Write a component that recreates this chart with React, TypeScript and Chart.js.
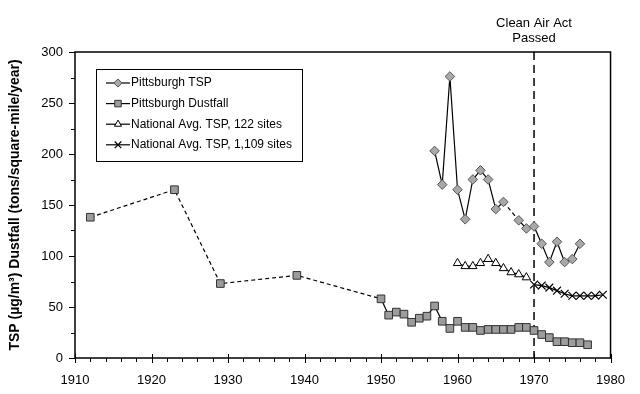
import React, { useEffect, useRef } from 'react';
import { Chart, registerables } from 'chart.js';
import { drawPoint } from 'chart.js/helpers';

Chart.register(...registerables);

// ---- data ----
const tspYears = [1957, 1958, 1959, 1960, 1961, 1962, 1963, 1964, 1965, 1966, 1968, 1969, 1970, 1971, 1972, 1973, 1974, 1975, 1976];
const tspValues = [203, 170, 276, 165, 136, 175, 184, 175, 146, 153, 135, 127, 129, 112, 94, 114, 94, 97, 112];

const dustYears = [1912, 1923, 1929, 1939, 1950, 1951, 1952, 1953, 1954, 1955, 1956, 1957, 1958, 1959, 1960, 1961, 1962, 1963, 1964, 1965, 1966, 1967, 1968, 1969, 1970, 1971, 1972, 1973, 1974, 1975, 1976, 1977];
const dustValues = [138, 165, 73, 81, 58, 42, 45, 43, 35, 39, 41, 51, 36, 29, 36, 30, 30, 27, 28, 28, 28, 28, 30, 30, 27, 23, 20, 16, 16, 15, 15, 13];

const nat122Years = [1960, 1961, 1962, 1963, 1964, 1965, 1966, 1967, 1968, 1969];
const nat122Values = [93, 90, 90, 93, 97, 93, 88, 84, 82, 79];

const nat1109Years = [1970, 1971, 1972, 1973, 1974, 1975, 1976, 1977, 1978, 1979];
const nat1109Values = [72, 71, 69, 66, 63, 61, 61, 61, 61, 62];

const seriesLabels = ['Pittsburgh TSP', 'Pittsburgh Dustfall', 'National Avg. TSP, 122 sites', 'National Avg. TSP, 1,109 sites'];

const xMajorTicks = [1910, 1920, 1930, 1940, 1950, 1960, 1970, 1980];
const xMinorStep = 2;
const yMajorTicks = [0, 50, 100, 150, 200, 250, 300];
const yMinorStep = 25;

const eventYear = 1970;
const eventLabel = ['Clean Air Act', 'Passed'];
const yTitle = 'TSP (µg/m³) Dustfall (tons/square-mile/year)';

const FONT = '"Liberation Sans", Arial, Helvetica, sans-serif';

const toPoints = (xs: number[], ys: number[]) => xs.map((x, i) => ({ x, y: ys[i] }));
const gapDash = (years: number[]) => (ctx: any) =>
  years[ctx.p1DataIndex] - years[ctx.p0DataIndex] > 1 ? [4, 3] : undefined;

const overlay = {
  id: 'overlay',
  beforeDatasetsDraw(chart: any) {
    const { ctx, chartArea: a, scales } = chart;
    const x = scales.x.getPixelForValue(eventYear);
    ctx.save();
    ctx.strokeStyle = '#000';
    ctx.lineWidth = 1.5;
    ctx.setLineDash([8, 5]);
    ctx.beginPath();
    ctx.moveTo(x, a.top);
    ctx.lineTo(x, a.bottom);
    ctx.stroke();
    ctx.restore();
  },
  afterDraw(chart: any) {
    const { ctx, chartArea: a, scales } = chart;
    const xs = scales.x, ys = scales.y;
    ctx.save();
    // frame
    ctx.strokeStyle = '#000';
    ctx.lineWidth = 1.5;
    ctx.strokeRect(a.left, a.top, a.right - a.left, a.bottom - a.top);
    // x ticks
    ctx.lineWidth = 1;
    const x0 = xMajorTicks[0], x1 = xMajorTicks[xMajorTicks.length - 1];
    for (let v = x0; v <= x1; v += xMinorStep) {
      const px = Math.round(xs.getPixelForValue(v)) + 0.5;
      const major = xMajorTicks.includes(v);
      ctx.beginPath();
      ctx.moveTo(px, a.bottom - (major ? 4 : 0));
      ctx.lineTo(px, a.bottom + (major ? 5 : 4));
      ctx.stroke();
    }
    const y0 = yMajorTicks[0], y1 = yMajorTicks[yMajorTicks.length - 1];
    for (let v = y0; v <= y1; v += yMinorStep) {
      const py = Math.round(ys.getPixelForValue(v)) + 0.5;
      const major = yMajorTicks.includes(v);
      ctx.beginPath();
      ctx.moveTo(a.left - (major ? 6 : 4), py);
      ctx.lineTo(a.left, py);
      ctx.stroke();
    }
    // event text
    const ex = xs.getPixelForValue(eventYear);
    ctx.fillStyle = '#000';
    ctx.font = `13px ${FONT}`;
    ctx.textAlign = 'center';
    ctx.textBaseline = 'middle';
    eventLabel.forEach((t, i) => ctx.fillText(t, ex, 23 + i * 15));
    // legend
    const lx = 96, ly = 69, lw = 206, lh = 92;
    ctx.fillStyle = '#fff';
    ctx.fillRect(lx, ly, lw, lh);
    ctx.strokeStyle = '#000';
    ctx.lineWidth = 1;
    ctx.strokeRect(lx + 0.5, ly + 0.5, lw, lh);
    chart.data.datasets.forEach((ds: any, i: number) => {
      const ry = ly + 14 + i * 20.6;
      ctx.strokeStyle = '#000';
      ctx.lineWidth = 1.2;
      ctx.setLineDash([]);
      ctx.beginPath();
      ctx.moveTo(lx + 10, ry);
      ctx.lineTo(lx + 34, ry);
      ctx.stroke();
      ctx.fillStyle = ds.pointBackgroundColor;
      ctx.strokeStyle = ds.pointBorderColor;
      ctx.lineWidth = ds.pointBorderWidth;
      drawPoint(ctx, { pointStyle: ds.pointStyle, radius: ds.pointRadius * 0.85, rotation: 0, borderWidth: ds.pointBorderWidth }, lx + 22, ry);
      ctx.fillStyle = '#000';
      ctx.font = `12px ${FONT}`;
      ctx.textAlign = 'left';
      ctx.textBaseline = 'middle';
      ctx.fillText(ds.label, lx + 35, ry);
    });
    ctx.restore();
  },
};

export default function App() {
  const ref = useRef<HTMLCanvasElement>(null);
  useEffect(() => {
    document.body.style.margin = '0';
    const common = { borderColor: '#000', borderWidth: 1.2, tension: 0, fill: false };
    const chart = new Chart(ref.current!, {
      type: 'line',
      data: {
        datasets: [
          {
            ...common,
            label: seriesLabels[0],
            data: toPoints(tspYears, tspValues),
            pointStyle: 'rectRot',
            pointRadius: 4.8,
            pointBackgroundColor: '#a8a8a8',
            pointBorderColor: '#555',
            pointBorderWidth: 1,
            segment: { borderDash: gapDash(tspYears) },
          },
          {
            ...common,
            label: seriesLabels[1],
            data: toPoints(dustYears, dustValues),
            pointStyle: 'rect',
            pointRadius: 5.4,
            pointBackgroundColor: '#9c9c9c',
            pointBorderColor: '#333',
            pointBorderWidth: 1,
            segment: { borderDash: gapDash(dustYears) },
          },
          {
            ...common,
            label: seriesLabels[2],
            data: toPoints(nat122Years, nat122Values),
            pointStyle: 'triangle',
            pointRadius: 4.8,
            pointBackgroundColor: '#fff',
            pointBorderColor: '#000',
            pointBorderWidth: 1,
          },
          {
            ...common,
            label: seriesLabels[3],
            data: toPoints(nat1109Years, nat1109Values),
            pointStyle: 'crossRot',
            pointRadius: 5.5,
            pointBackgroundColor: '#000',
            pointBorderColor: '#000',
            pointBorderWidth: 1.2,
          },
        ],
      },
      options: {
        responsive: false,
        animation: false,
        layout: { padding: { top: 52, right: 27, left: 0, bottom: 0 } },
        plugins: { legend: { display: false }, tooltip: { enabled: false } },
        scales: {
          x: {
            type: 'linear',
            min: xMajorTicks[0],
            max: xMajorTicks[xMajorTicks.length - 1],
            grid: { display: false, drawTicks: false },
            border: { display: false },
            afterBuildTicks: (s: any) => { s.ticks = xMajorTicks.map((v) => ({ value: v })); },
            ticks: {
              callback: (v: any) => String(v),
              color: '#000',
              font: { family: FONT, size: 13 },
              padding: 15,
              maxRotation: 0,
            },
            afterFit: (s: any) => { s.height = 36; },
          },
          y: {
            type: 'linear',
            min: yMajorTicks[0],
            max: yMajorTicks[yMajorTicks.length - 1],
            grid: { display: false, drawTicks: false },
            border: { display: false },
            afterBuildTicks: (s: any) => { s.ticks = yMajorTicks.map((v) => ({ value: v })); },
            ticks: {
              callback: (v: any) => String(v),
              color: '#000',
              font: { family: FONT, size: 13 },
              padding: 12,
            },
            title: {
              display: true,
              text: yTitle,
              color: '#000',
              font: { family: FONT, size: 14, weight: 'bold' },
              padding: { top: 7, bottom: 0 },
            },
            afterFit: (s: any) => { s.width = 75; },
          },
        },
      },
      plugins: [overlay],
    });
    return () => chart.destroy();
  }, []);
  return <canvas ref={ref} width={640} height={394} style={{ display: 'block' }} />;
}
